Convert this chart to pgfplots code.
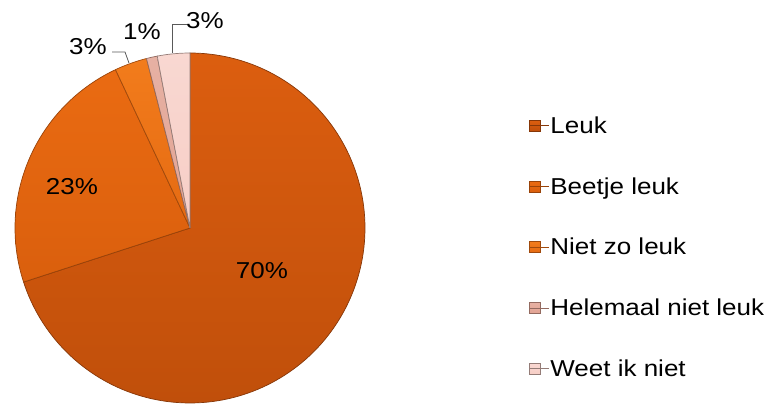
\documentclass[border=0pt]{standalone}
\usepackage{pgfplots}
\pgfplotsset{compat=1.18}
\usepackage{fontspec}
\setmainfont[FakeStretch=1.13]{Liberation Sans}
\definecolor{cLeukT}{HTML}{DC5E0F}
\definecolor{cLeukB}{HTML}{C04F0B}
\definecolor{cBeetjeT}{HTML}{EA6B12}
\definecolor{cBeetjeB}{HTML}{DA5F0D}
\definecolor{cNietT}{HTML}{F27C1C}
\definecolor{cNietB}{HTML}{E56A12}
\definecolor{cHel}{HTML}{E2A393}
\definecolor{cWeet}{HTML}{F7CEC6}
\newcommand{\lblfont}{\fontsize{23}{27}\selectfont}
\begin{document}
\begin{tikzpicture}
\begin{axis}[
  scale only axis, width=772pt, height=405pt,
  xmin=0, xmax=772, ymin=0, ymax=405,
  hide axis, clip=false,
  legend style={at={(axis cs:529,290)}, anchor=north west, draw=none, fill=none,
    font=\lblfont, row sep=39.6pt, inner sep=0pt,
    nodes={inner sep=1.5pt}},
  legend cell align=left,
  legend image code/.code={\fill[#1] (0pt,-5.5pt) rectangle (11pt,5.5pt); \path (0pt,0pt) -- (19pt,0pt);},
]
\path (axis cs:0,0) rectangle (axis cs:772,405);
% slices: Leuk 70, Beetje leuk 23, Niet zo leuk 3, Helemaal niet leuk 1, Weet ik niet 3 (percent), clockwise from top
\addplot[top color=cLeukT, bottom color=cLeukB, draw=cLeukB!70!black, line width=0.7pt, domain={90-3.6*70}:{90}, samples=150]
  ({190+175*cos(x)},{177+175*sin(x)}) -- (axis cs:190,177) -- cycle;
\addlegendentry{Leuk}
\addplot[top color=cBeetjeT, bottom color=cBeetjeB, draw=cBeetjeB!70!black, line width=0.7pt, domain={90-3.6*93}:{90-3.6*70}, samples=60]
  ({190+175*cos(x)},{177+175*sin(x)}) -- (axis cs:190,177) -- cycle;
\addlegendentry{Beetje leuk}
\addplot[top color=cNietT, bottom color=cNietB, draw=cNietB!70!black, line width=0.7pt, domain={90-3.6*96}:{90-3.6*93}, samples=10]
  ({190+175*cos(x)},{177+175*sin(x)}) -- (axis cs:190,177) -- cycle;
\addlegendentry{Niet zo leuk}
\addplot[top color=cHel!85!white, bottom color=cHel, draw=cHel!65!black, line width=0.7pt, domain={90-3.6*97}:{90-3.6*96}, samples=5]
  ({190+175*cos(x)},{177+175*sin(x)}) -- (axis cs:190,177) -- cycle;
\addlegendentry{Helemaal niet leuk}
\addplot[top color=cWeet!80!white, bottom color=cWeet, draw=cWeet!60!black, line width=0.7pt, domain={90-3.6*100}:{90-3.6*97}, samples=10]
  ({190+175*cos(x)},{177+175*sin(x)}) -- (axis cs:190,177) -- cycle;
\addlegendentry{Weet ik niet}
\node[font=\lblfont] at (axis cs:262,134) {70\%};
\node[font=\lblfont] at (axis cs:72,218) {23\%};
\node[font=\lblfont] at (axis cs:88,358) {3\%};
\node[font=\lblfont] at (axis cs:142,373) {1\%};
\node[font=\lblfont] at (axis cs:205,384) {3\%};
\draw[black!65, line width=0.8pt] (axis cs:112,353) -- (axis cs:125,353) -- (axis cs:129,342);
\draw[black!65, line width=0.8pt] (axis cs:187,381) -- (axis cs:172,381) -- (axis cs:172,352);
\end{axis}
\end{tikzpicture}
\end{document}
